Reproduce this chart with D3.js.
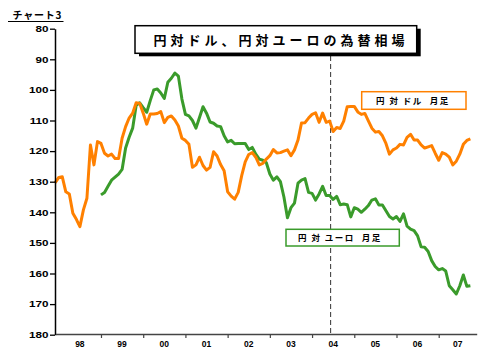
<!DOCTYPE html>
<html>
<head>
<meta charset="utf-8">
<script src="https://cdn.jsdelivr.net/npm/d3@7"></script>
<style>
body{margin:0;background:#fff;}
svg{display:block;font-family:"Liberation Sans",Arial,sans-serif;}
.jp{font-family:"Noto Sans CJK JP",sans-serif;font-weight:bold;white-space:pre;}
</style>
</head>
<body>
<div class="chart"></div>
<script>
// monthly closes
// yen per dollar, from Dec 1997
const usdStart = [1997, 12];
const usdJpy = [
  130.3,128.6,128.4,133.3,134,140.3,142.3,144.7,139.2,135.4,118,124.5,116.9,
  117.5,120.7,121.6,121,122.4,122.4,115.8,112,109.2,107.6,104.2,104.4,
  107.6,111.2,107.9,107.9,107.7,107.1,110.7,109,108.5,109.8,111.8,115.8,
  116.5,117.8,125.3,124.5,122,124.7,126.2,125.3,120.2,121.6,124.4,126.4,
  133.3,134.7,135.7,133.5,128,123.5,121.1,120.5,122,124.5,124,122.6,
  121.5,119.5,120.6,120.5,120,119.6,121.5,119.6,116.4,110.8,110.7,109.2,
  108,107.5,110.6,107.6,110.6,110.2,113.6,112.3,112.6,110.2,105.5,105.4,
  105.4,107.2,108,107.7,110.1,112.5,113.8,113.6,115,117.5,121,119.6,
  119,117.8,118,115.5,114.5,116.4,116.4,118,119,118.6,118.2,120.7,
  123,120.5,121,122,124.5,123.3,121,117.8,116.5,116
];
// yen per euro, from Jan 1999
const eurStart = [1999, 1];
const eurJpy = [
  134.3,133.5,131.5,129.5,128.5,127.5,126,119,115.5,112.5,105,104.2,
  105.8,107.3,103.5,100,99.7,101,102.8,97.5,96.2,94.5,95.5,103,
  108,108.5,110,112.5,109,105.5,107.6,110.5,110.9,111.8,112,115,
  117,116.5,117.6,117.5,117.5,117.5,119.5,118.8,121,122.6,123,123.8,
  127.5,129.5,128.4,130,135,141.8,138.5,137,130.5,129.5,129,133.5,
  133.8,136,134,131.5,134.5,134.5,135.8,134.8,137.5,137.3,137.5,141.5,
  138.5,139,140,139,137.8,136,135.6,137.6,137.6,139.5,141.4,142.2,
  141.4,143,140.5,144.5,145.5,146,147.7,151.3,151.4,152.8,155.8,157.7,
  158.8,158.4,159.2,164,165.3,166.7,164,160.5,164.2,164
];
const years = [1998,1999,2000,2001,2002,2003,2004,2005,2006,2007];
const yearLabels = ["98","99","00","01","02","03","04","05","06","07"];
const yTicks = [80,90,100,110,120,130,140,150,160,170,180];
const markerYear = 2004.44;

var width = 483, height = 350;
var svg = d3.select(".chart").append("svg")
  .attr("width",width)
  .attr("height",height);

var x = d3.scaleLinear().domain([1997.92,2007.9]).range([55.4,476.7]);
var y = d3.scaleLinear().domain([80,180]).range([28.7,334.7]);

function toSeries(start, values){
  return values.map((v,i)=>({t: start[0] + (start[1]-1+i)/12, v: v}));
}

var line = d3.line()
  .x(d=>x(d.t))
  .y(d=>y(d.v));

// dashed marker
svg.append("line")
  .attr("x1",x(markerYear)).attr("x2",x(markerYear))
  .attr("y1",56).attr("y2",y(180))
  .attr("stroke","#333")
  .attr("stroke-width",1)
  .attr("stroke-dasharray","5,3");

// series
svg.append("path")
  .datum(toSeries(eurStart,eurJpy))
  .attr("d",line)
  .attr("fill","none")
  .attr("stroke","#3a9b2b")
  .attr("stroke-width",3)
  .attr("stroke-linejoin","round");

svg.append("path")
  .datum(toSeries(usdStart,usdJpy))
  .attr("d",line)
  .attr("fill","none")
  .attr("stroke","#ff8000")
  .attr("stroke-width",3)
  .attr("stroke-linejoin","round");

// y axis
var gy = svg.append("g")
  .attr("transform","translate(55,0)")
  .call(d3.axisLeft(y).tickValues(yTicks).tickSize(5).tickSizeOuter(0).tickPadding(1.5));
gy.select(".domain").attr("stroke","#000").attr("stroke-width",1.5);
gy.selectAll(".tick line").attr("stroke","#000").attr("stroke-width",1.3);
gy.selectAll(".tick text")
  .attr("x",-6.5/1.3)
  .attr("transform","scale(1.3,1)")
  .attr("font-size",9)
  .attr("font-weight","bold")
  .attr("fill","#000");

// x axis
var gx = svg.append("g")
  .attr("transform","translate(0,334)")
  .call(d3.axisBottom(x).tickValues(years.slice(1)).tickSize(4).tickSizeOuter(0).tickFormat(""));
gx.select(".domain").attr("stroke","#444").attr("stroke-width",1.3);
gx.selectAll(".tick line").attr("stroke","#444").attr("stroke-width",1.2);

var xEnd = x.domain()[1];
svg.selectAll(".yr")
  .data(years)
  .enter().append("text")
  .attr("class","yr")
  .attr("x",(d)=>(x(d)+x(Math.min(d+1,xEnd)))/2)
  .attr("y",347)
  .attr("text-anchor","middle")
  .attr("font-size",8.5)
  .attr("font-weight","bold")
  .text((d,i)=>yearLabels[i]);

// chart number
svg.append("text")
  .attr("class","jp")
  .attr("x",12.5).attr("y",18.5)
  .attr("font-size",10)
  .attr("letter-spacing",0.8)
  .text("チャート3");
svg.append("line")
  .attr("x1",8).attr("x2",63.5)
  .attr("y1",21.5).attr("y2",21.5)
  .attr("stroke","#000").attr("stroke-width",1);

// title box
svg.append("rect")
  .attr("x",139).attr("y",28.7).attr("width",281.7).attr("height",27.6)
  .attr("fill","#000");
svg.append("rect")
  .attr("x",135).attr("y",25.7).attr("width",281.7).attr("height",27.6)
  .attr("fill","#fff").attr("stroke","#000").attr("stroke-width",1.5);
svg.append("text")
  .attr("class","jp")
  .attr("x",281).attr("y",45)
  .attr("text-anchor","middle")
  .attr("font-size",13)
  .attr("letter-spacing",4)
  .text("円対ドル、円対ユーロの為替相場");

// legend boxes
svg.append("rect")
  .attr("x",361.7).attr("y",91.7).attr("width",104.3).attr("height",17.6)
  .attr("fill","#fff").attr("stroke","#ff8000").attr("stroke-width",1.5);
svg.append("text")
  .attr("class","jp")
  .attr("x",376).attr("y",103.5)
  .attr("font-size",8.5)
  .attr("letter-spacing",1.5)
  .text("円 対 ドル  月足");

svg.append("rect")
  .attr("x",286).attr("y",229.3).attr("width",113.3).attr("height",16.7)
  .attr("fill","#fff").attr("stroke","#3a9b2b").attr("stroke-width",1.5);
svg.append("text")
  .attr("class","jp")
  .attr("x",298).attr("y",241)
  .attr("font-size",8.5)
  .attr("letter-spacing",1.5)
  .text("円 対 ユーロ  月足");
</script>
</body>
</html>
